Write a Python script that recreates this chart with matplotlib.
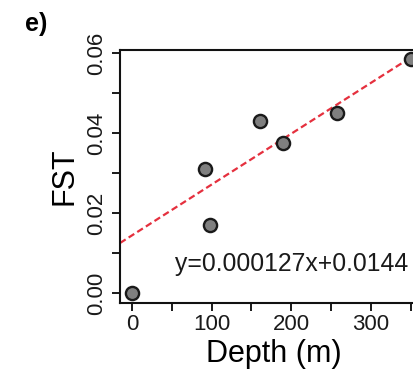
import numpy as np
import matplotlib.pyplot as plt

plt.rcParams['font.family'] = ['Liberation Sans', 'DejaVu Sans']

# depth (m) vs. pairwise FST
depth = [0, 92, 98, 161, 190, 258, 350]
fst = [0.000, 0.031, 0.017, 0.043, 0.0375, 0.045, 0.0585]
slope = 0.000127
intercept = 0.0144
xticks = [0, 100, 200, 300]
yticks = [0.00, 0.02, 0.04, 0.06]

fig = plt.figure(figsize=(4.13, 3.82), dpi=100)
ax = fig.add_axes([0.2906, 0.2068, 0.7458, 0.6623])

ax.set_xlim(-15, 372)
ax.set_ylim(-0.0025, 0.06075)

xs = np.array(ax.get_xlim())
ax.plot(xs, slope * xs + intercept, color='#e5303e', lw=1.6,
        dashes=(3, 1.6), zorder=2)
ax.scatter(depth, fst, s=90, facecolor='#7f7f7f', edgecolor='#1a1a1a',
           linewidth=1.7, zorder=3, clip_on=False)

ax.text(54, 0.0055, f'y={slope:.6f}x+{intercept}', fontsize=17.8,
        color='#1a1a1a')

ax.set_xticks(xticks)
ax.set_xticks([50, 150, 250, 350], minor=True)
ax.set_yticks(yticks)
ax.set_yticks([0.01, 0.03, 0.05], minor=True)
ax.set_yticklabels([f'{v:.2f}' for v in yticks], rotation=90, va='center')
ax.tick_params(which='both', direction='out', length=6, width=1.4,
               labelsize=16, colors='#1a1a1a')
ax.tick_params(which='minor', labelleft=False, labelbottom=False)
ax.tick_params(axis='x', pad=2)
ax.tick_params(axis='y', pad=3)

for s in ax.spines.values():
    s.set_linewidth(1.5)
    s.set_color('#111111')

ax.set_xlabel('Depth (m)', fontsize=22, labelpad=3)
ax.set_ylabel('FST', fontsize=22, labelpad=5)
fig.text(0.06, 0.92, 'e)', fontsize=18, fontweight='bold')

fig.savefig('out.png', dpi=100)
